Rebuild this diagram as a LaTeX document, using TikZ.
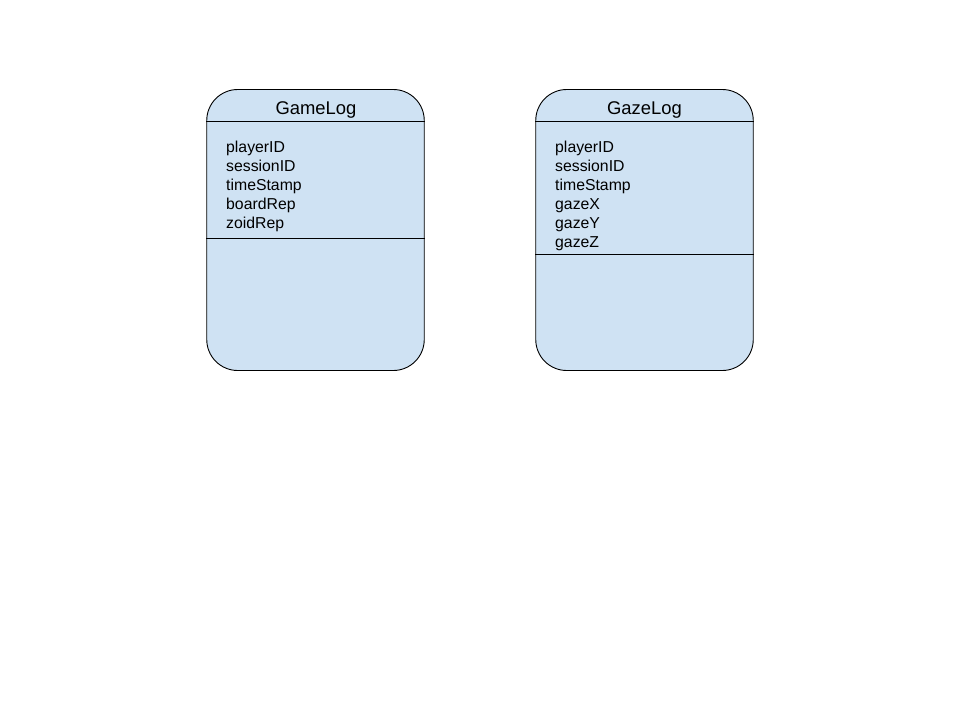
\documentclass[tikz,border=0pt]{standalone}
\usepackage{fontspec}
\setmainfont{Liberation Sans}
\definecolor{boxfill}{HTML}{CFE2F3}

\begin{document}
\begin{tikzpicture}[x=1pt, y=-1pt]
\useasboundingbox (0,0) rectangle (960,720);
  \begin{scope}[every node/.style={draw, line width=0.9pt, fill=boxfill, rounded corners=31pt, minimum width=217.5pt, minimum height=281pt, inner sep=0pt}]
\node(game) at (315.5,230) {};
\node(gaze) at (644.5,230) {};
\end{scope}

\draw[line width=0.9pt] (game.west |- 0,121.5) -- (game.east |- 0,121.5);
\draw[line width=0.9pt] (game.west |- 0,238.5) -- (game.east |- 0,238.5);
\draw[line width=0.9pt] (gaze.west |- 0,121.5) -- (gaze.east |- 0,121.5);
\draw[line width=0.9pt] (gaze.west |- 0,254) -- (gaze.east |- 0,254);

\node[anchor=base, font=\fontsize{18.4}{22}\selectfont](gametitle) at (316,114) {GameLog};
\node[anchor=base, font=\fontsize{18.4}{22}\selectfont](gazetitle) at (644.5,114) {GazeLog};

\node[anchor=north west, inner sep=0pt, align=left, font=\fontsize{15.8}{19}\selectfont](gamefields) at (226,141) {playerID\\sessionID\\timeStamp\\boardRep\\zoidRep};
\node[anchor=north west, inner sep=0pt, align=left, font=\fontsize{15.8}{19}\selectfont](gazefields) at (555,141) {playerID\\sessionID\\timeStamp\\gazeX\\gazeY\\gazeZ};
\end{tikzpicture}
\end{document}
